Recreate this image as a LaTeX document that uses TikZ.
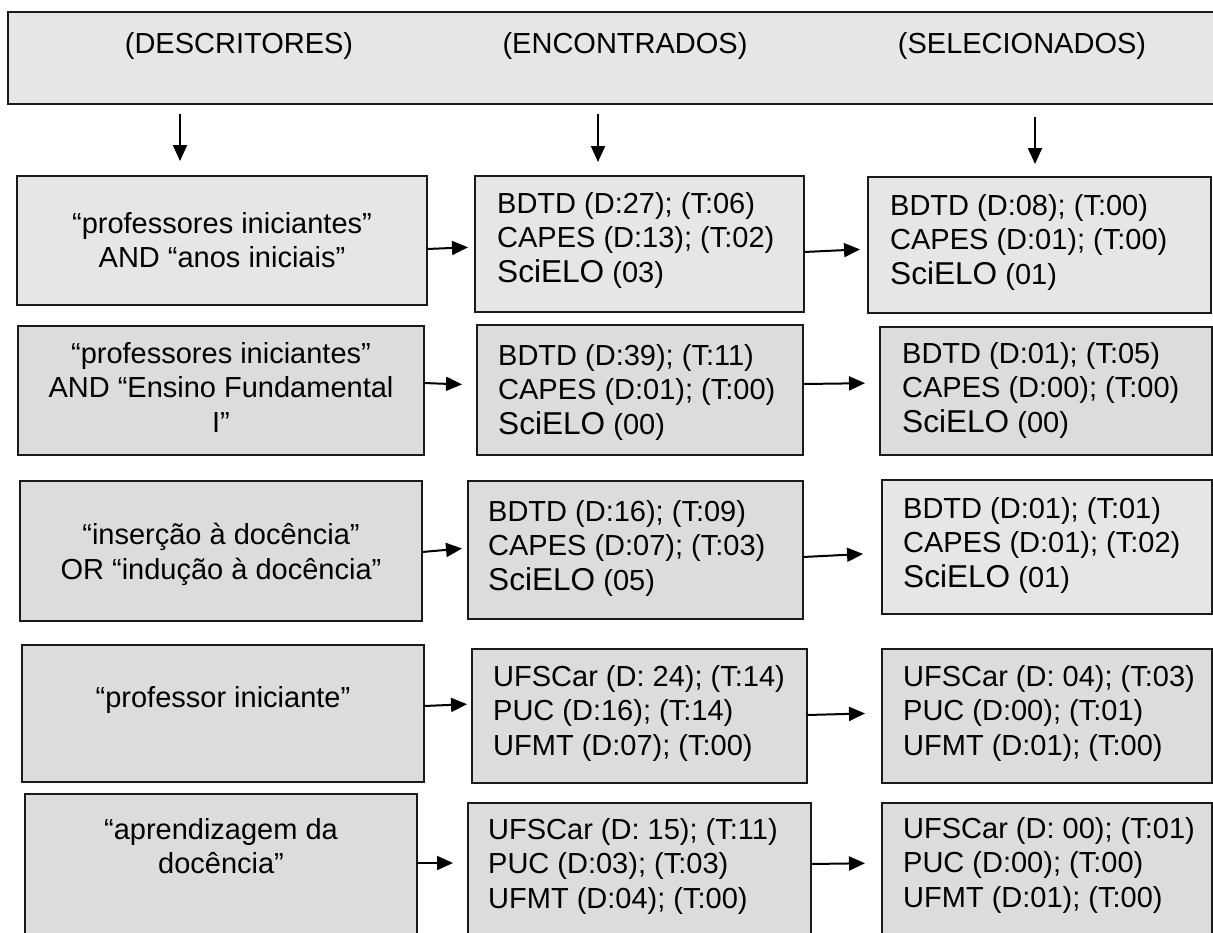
\documentclass[tikz,border=0pt]{standalone}
\usepackage{fontspec}
\setmainfont{Liberation Sans}
\usetikzlibrary{arrows.meta}

\definecolor{cinzaclaro}{HTML}{E6E6E6}
\definecolor{cinza}{HTML}{DCDCDC}
\definecolor{borda}{HTML}{1A1A1A}

\begin{document}
\begin{tikzpicture}[x=1pt, y=-1pt,
        caixa/.style={draw=borda, line width=2pt, fill=cinza, inner sep=0pt, outer sep=0pt, anchor=north west},
        clara/.style={caixa, fill=cinzaclaro},
        texto/.style={inner sep=0pt, font=\fontsize{29}{34.5}\selectfont, align=left, anchor=north west},
        textoc/.style={texto, align=center, anchor=north},
        seta/.style={line width=2pt, -{Triangle[length=16pt,width=14pt]}}]

        \clip (0,0) rectangle (1213,932);
        \fill[white] (0,0) rectangle (1213,932);

        % cabecalho
        \node[clara, minimum width=1212pt, minimum height=92pt] (cab) at (8,12) {};
        \node[texto, anchor=base] (tdesc) at (239,53) {(DESCRITORES)};
        \node[texto, anchor=base] (tenc) at (625,53) {(ENCONTRADOS)};
        \node[texto, anchor=base] (tsel) at (1022,53) {(SELECIONADOS)};

        % caixas
        \node[clara, minimum width=410pt, minimum height=129pt] (desc1) at (17,176) {};
        \node[clara, minimum width=329pt, minimum height=136pt] (enc1) at (475,176) {};
        \node[clara, minimum width=343pt, minimum height=136pt] (sel1) at (868,177) {};

        \node[caixa, minimum width=406pt, minimum height=129pt] (desc2) at (18,326) {};
        \node[caixa, minimum width=326pt, minimum height=130pt] (enc2) at (477,325) {};
        \node[caixa, minimum width=332pt, minimum height=128pt] (sel2) at (880,327) {};

        \node[caixa, minimum width=402pt, minimum height=140pt] (desc3) at (20,481) {};
        \node[caixa, minimum width=335pt, minimum height=138pt] (enc3) at (468,481) {};
        \node[clara, minimum width=330pt, minimum height=134pt] (sel3) at (882,480) {};

        \node[caixa, minimum width=402pt, minimum height=137pt] (desc4) at (22,645) {};
        \node[caixa, minimum width=335pt, minimum height=134pt] (enc4) at (472,649) {};
        \node[caixa, minimum width=330pt, minimum height=134pt] (sel4) at (882,649) {};

        \node[caixa, minimum width=392pt, minimum height=151pt] (desc5) at (25,794) {};
        \node[caixa, minimum width=343pt, minimum height=142pt] (enc5) at (468,803) {};
        \node[caixa, minimum width=330pt, minimum height=142pt] (sel5) at (882,803) {};

        % textos
        \node[textoc] (desc1t) at ([yshift=-36pt]desc1.north) {“professores iniciantes”\\AND “anos iniciais”};
        \node[textoc] (desc2t) at ([yshift=-16pt]desc2.north) {“professores iniciantes”\\AND “Ensino Fundamental\\I”};
        \node[textoc] (desc3t) at ([yshift=-42pt]desc3.north) {“inserção à docência”\\OR “indução à docência”};
        \node[textoc] (desc4t) at ([yshift=-41pt]desc4.north) {“professor iniciante”};
        \node[textoc] (desc5t) at ([yshift=-24pt]desc5.north) {“aprendizagem da\\docência”};

        \node[texto] (enc1t) at ([xshift=22pt, yshift=-16pt]enc1.north west) {BDTD (D:27); (T:06)\\CAPES (D:13); (T:02)\\{\fontsize{31.6}{34.5}\selectfont SciELO} (03)};
        \node[texto] (enc2t) at ([xshift=21pt, yshift=-19pt]enc2.north west) {BDTD (D:39); (T:11)\\CAPES (D:01); (T:00)\\{\fontsize{31.6}{34.5}\selectfont SciELO} (00)};
        \node[texto] (enc3t) at ([xshift=20pt, yshift=-19pt]enc3.north west) {BDTD (D:16); (T:09)\\CAPES (D:07); (T:03)\\{\fontsize{31.6}{34.5}\selectfont SciELO} (05)};
        \node[texto] (enc4t) at ([xshift=21pt, yshift=-16pt]enc4.north west) {UFSCar (D: 24); (T:14)\\PUC (D:16); (T:14)\\UFMT (D:07); (T:00)};
        \node[texto] (enc5t) at ([xshift=20pt, yshift=-15pt]enc5.north west) {UFSCar (D: 15); (T:11)\\PUC (D:03); (T:03)\\UFMT (D:04); (T:00)};

        \node[texto] (sel1t) at ([xshift=22pt, yshift=-17pt]sel1.north west) {BDTD (D:08); (T:00)\\CAPES (D:01); (T:00)\\{\fontsize{31.6}{34.5}\selectfont SciELO} (01)};
        \node[texto] (sel2t) at ([xshift=22pt, yshift=-15pt]sel2.north west) {BDTD (D:01); (T:05)\\CAPES (D:00); (T:00)\\{\fontsize{31.6}{34.5}\selectfont SciELO} (00)};
        \node[texto] (sel3t) at ([xshift=21pt, yshift=-17pt]sel3.north west) {BDTD (D:01); (T:01)\\CAPES (D:01); (T:02)\\{\fontsize{31.6}{34.5}\selectfont SciELO} (01)};
        \node[texto] (sel4t) at ([xshift=21pt, yshift=-16pt]sel4.north west) {UFSCar (D: 04); (T:03)\\PUC (D:00); (T:01)\\UFMT (D:01); (T:00)};
        \node[texto] (sel5t) at ([xshift=21pt, yshift=-14pt]sel5.north west) {UFSCar (D: 00); (T:01)\\PUC (D:00); (T:00)\\UFMT (D:01); (T:00)};

        % setas do cabecalho
        \coordinate (x1) at (180,0);
        \coordinate (x2) at (598,0);
        \coordinate (x3) at (1035,0);
        \draw[seta, shorten <=10pt, shorten >=15pt] (cab.south -| x1) -- (desc1.north -| x1);
        \draw[seta, shorten <=10pt, shorten >=14pt] (cab.south -| x2) -- (enc1.north -| x2);
        \draw[seta, shorten <=13pt, shorten >=13pt] (cab.south -| x3) -- (sel1.north -| x3);

        % setas entre as colunas
        \draw[seta, shorten >=7pt] ([yshift=-8.5pt]desc1.east) -- ([yshift=-3pt]enc1.west);
        \draw[seta, shorten >=8pt] ([yshift=-8pt]enc1.east) -- ([yshift=-4pt]sel1.west);
        \draw[seta, shorten >=15pt] ([yshift=7.5pt]desc2.east) -- ([yshift=5pt]enc2.west);
        \draw[seta, shorten >=15pt] ([yshift=6pt]enc2.east) -- ([yshift=8pt]sel2.west);
        \draw[seta, shorten >=6pt] ([yshift=-1pt]desc3.east) -- ([yshift=2pt]enc3.west);
        \draw[seta, shorten >=19pt] ([yshift=-7pt]enc3.east) -- ([yshift=-6pt]sel3.west);
        \draw[seta, shorten >=5pt] ([yshift=7.5pt]desc4.east) -- ([yshift=12pt]enc4.west);
        \draw[seta, shorten >=17pt] ([yshift=1pt]enc4.east) -- ([yshift=3pt]sel4.west);
        \draw[seta, shorten >=15pt] ([yshift=6.5pt]desc5.east) -- ([yshift=11pt]enc5.west);
        \draw[seta, shorten >=17pt] ([yshift=10pt]enc5.east) -- ([yshift=11pt]sel5.west);

\end{tikzpicture}
\end{document}
